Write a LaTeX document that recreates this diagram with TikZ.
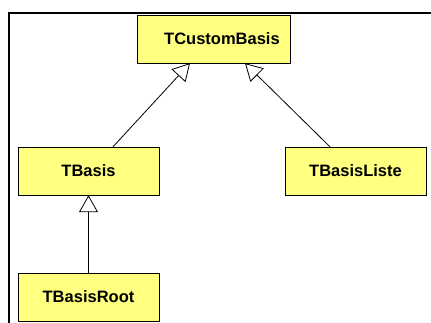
\documentclass[tikz,border=0pt]{standalone}
\usepackage{fontspec}
\setmainfont{Liberation Sans}
\usetikzlibrary{arrows.meta}
\usepackage{xcolor}
\definecolor{klassgelb}{RGB}{255,255,128}

\begin{document}
\begin{tikzpicture}[x=1pt, y=-1pt,
	klasse/.style={draw, fill=klassgelb, minimum height=48pt, inner sep=0pt,
		font=\fontsize{16.5}{19}\selectfont\bfseries},
	erbt/.style={-{Triangle[open, length=17pt, width=19pt]}, line width=0.8pt}]
	\useasboundingbox (0,0) rectangle (431,322);
	\draw[line width=2pt] (9,323) -- (9,13) -- (432,13);
	\node (custom) [klasse, minimum width=153pt] at (213.5, 39) {\hspace{17pt}TCustomBasis};
	\node (basis) [klasse, minimum width=141pt] at (88.5, 171) {TBasis};
	\node (liste) [klasse, minimum width=141pt] at (355.5, 171) {TBasisListe};
	\node (root) [klasse, minimum width=141pt] at (88.5, 297) {TBasisRoot};
	\draw[erbt] ([xshift=24.5pt]basis.north) -- ([xshift=-23.5pt]custom.south);
	\draw[erbt] ([xshift=-25.5pt]liste.north) -- ([xshift=31.5pt]custom.south);
	\draw[erbt] (root) -- (basis);
\end{tikzpicture}
\end{document}
